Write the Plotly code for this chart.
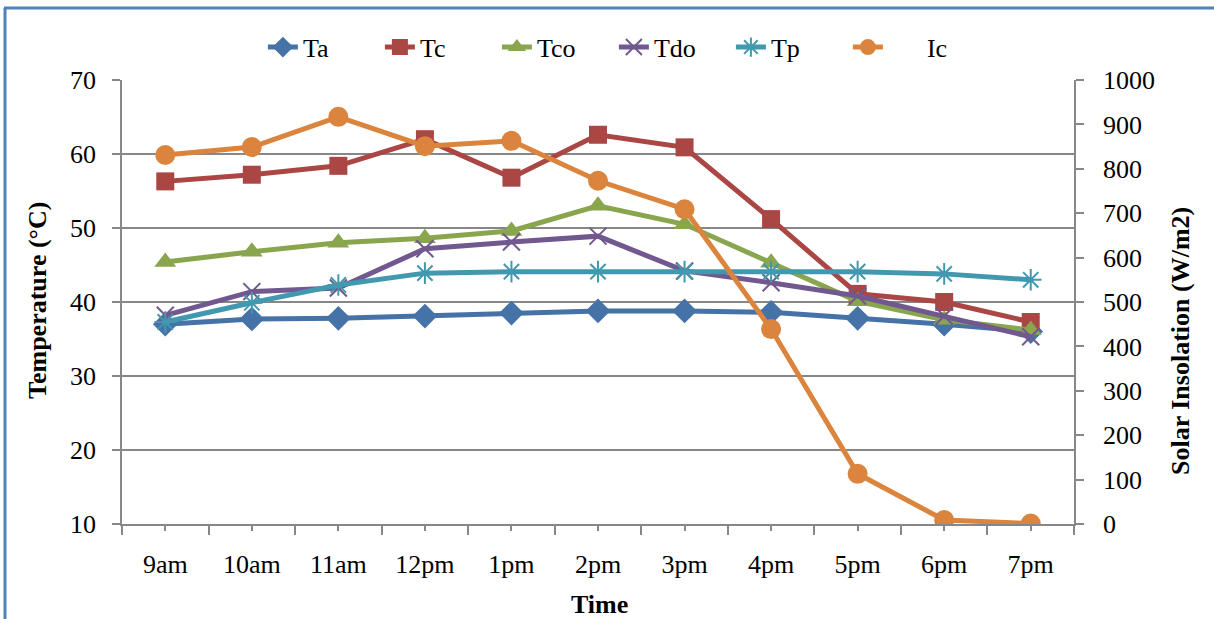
import plotly.graph_objects as go

# Hourly readings
times = ["9am", "10am", "11am", "12pm", "1pm", "2pm", "3pm", "4pm", "5pm", "6pm", "7pm"]
ta = [37.0, 37.7, 37.8, 38.1, 38.5, 38.8, 38.8, 38.6, 37.8, 37.0, 36.0]
tc = [56.3, 57.2, 58.4, 62.0, 56.8, 62.6, 60.9, 51.2, 41.1, 40.0, 37.3]
tco = [45.4, 46.8, 48.0, 48.6, 49.6, 53.0, 50.5, 45.3, 40.1, 37.6, 36.2]
tdo = [38.2, 41.4, 41.9, 47.2, 48.1, 48.9, 44.2, 42.6, 40.8, 38.1, 35.3]
tp = [37.3, 39.9, 42.3, 43.9, 44.1, 44.1, 44.1, 44.1, 44.1, 43.8, 43.0]
ic = [831, 849, 917, 851, 863, 773, 709, 439, 113, 9, 1]

x = list(range(len(times)))
FONT = "Liberation Serif"
GRID = "#878787"
FS = 26

fig = go.Figure()

temp_series = [
    ("Ta", ta, "#4572A7", dict(symbol="diamond", size=19)),
    ("Tc", tc, "#AA4643", dict(symbol="square", size=18)),
    ("Tco", tco, "#89A54E", dict(symbol="triangle-up", size=19)),
    ("Tdo", tdo, "#71588F", dict(symbol="x-thin-open", size=17, line=dict(width=2, color="#71588F"))),
    ("Tp", tp, "#4198AF", dict(symbol="asterisk-open", size=18, line=dict(width=2, color="#4198AF"))),
]
for name, vals, color, mk in temp_series:
    fig.add_trace(go.Scatter(
        x=x, y=vals, name=name, mode="lines+markers",
        line=dict(color=color, width=5),
        marker=dict(color=color, **mk),
        yaxis="y",
    ))

fig.add_trace(go.Scatter(
    x=x, y=ic, name="      Ic", mode="lines+markers",
    line=dict(color="#DB843D", width=5),
    marker=dict(color="#DB843D", symbol="circle", size=20),
    yaxis="y2",
))

fig.update_layout(
    width=1214, height=619,
    margin=dict(l=122, r=140, t=80, b=95),
    paper_bgcolor="white", plot_bgcolor="white",
    font=dict(family=FONT, size=FS, color="black"),
    showlegend=True,
    legend=dict(
        orientation="h", x=0.148, y=1.074, xanchor="left", yanchor="middle",
        font=dict(family=FONT, size=FS), entrywidth=72, entrywidthmode="pixels",
        bgcolor="rgba(0,0,0,0)", tracegroupgap=0,
    ),
    xaxis=dict(
        range=[-0.5, len(times) - 0.5],
        tickvals=x, ticktext=times,
        ticks="outside", ticklen=5, tickcolor=GRID, tickwidth=1.5,
        showline=True, linecolor=GRID, linewidth=1.5,
        showgrid=False, zeroline=False,
        minor=dict(tickvals=[i - 0.5 for i in range(len(times) + 1)],
                   ticks="outside", ticklen=9, tickcolor=GRID, tickwidth=1.5, showgrid=False),
        tickfont=dict(size=FS), ticklabelstandoff=11,
        fixedrange=True,
    ),
    xaxis2=dict(
        overlaying="x", anchor="y", side="bottom",
        range=[-0.5, len(times) - 0.5],
        tickvals=[i - 0.5 for i in range(len(times) + 1)],
        ticks="inside", ticklen=4, tickcolor=GRID, tickwidth=1.5,
        showticklabels=False, showgrid=False, showline=False, zeroline=False,
    ),
    yaxis=dict(
        range=[10, 70], dtick=10, tick0=10,
        ticks="outside", ticklen=8, tickcolor=GRID, tickwidth=1.5,
        showline=True, linecolor=GRID, linewidth=1.5,
        showgrid=True, gridcolor=GRID, gridwidth=1.5, zeroline=False,
        tickfont=dict(size=FS), ticklabelstandoff=11,
    ),
    yaxis2=dict(
        range=[0, 1000], dtick=100, tick0=0,
        overlaying="y", side="right", anchor="x",
        ticks="outside", ticklen=8, tickcolor=GRID, tickwidth=1.5,
        showline=True, linecolor=GRID, linewidth=1.5,
        showgrid=False, zeroline=False,
        tickfont=dict(size=FS), ticklabelstandoff=14,
    ),
    annotations=[
        dict(text="<b>Temperature (°C)</b>", xref="paper", yref="paper",
             x=(37 - 122) / 952, y=(524 - 301) / 444, textangle=-90,
             showarrow=False, font=dict(size=FS), xanchor="center", yanchor="middle"),
        dict(text="<b>Solar Insolation (W/m2)</b>", xref="paper", yref="paper",
             x=(1180 - 122) / 952, y=(524 - 341) / 444, textangle=-90,
             showarrow=False, font=dict(size=FS), xanchor="center", yanchor="middle"),
        dict(text="<b>Time</b>", xref="paper", yref="paper",
             x=(599 - 122) / 952, y=(524 - 604) / 444,
             showarrow=False, font=dict(size=FS), xanchor="center", yanchor="middle"),
    ],
    shapes=[
        dict(type="line", xref="paper", yref="paper",
             x0=(4 - 122) / 952, x1=(1214 - 122) / 952,
             y0=(524 - 8) / 444, y1=(524 - 8) / 444,
             line=dict(color="#4F81BD", width=3)),
        dict(type="line", xref="paper", yref="paper",
             x0=(5 - 122) / 952, x1=(5 - 122) / 952,
             y0=(524 - 8) / 444, y1=(524 - 625) / 444,
             line=dict(color="#4F81BD", width=3)),
    ],
)

fig.write_html("out.html")
